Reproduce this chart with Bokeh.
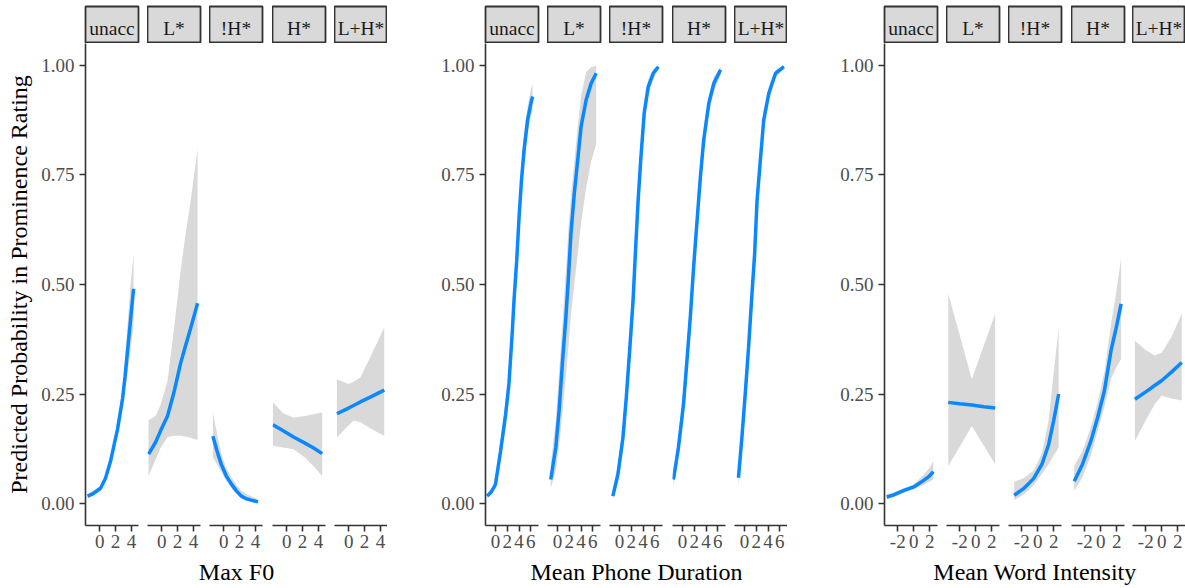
from bokeh.plotting import figure
from bokeh.layouts import row, column
from bokeh.models import Range1d, FixedTicker, Label, ColumnDataSource, NumeralTickFormatter
from bokeh.embed import file_html
from bokeh.resources import INLINE

ACCENTS = ["unacc", "L*", "!H*", "H*", "L+H*"]
Y_TICKS = [0.0, 0.25, 0.5, 0.75, 1.0]
Y_TITLE = "Predicted Probability in Prominence Rating"

# ---------------- Max F0 ----------------
F0_TITLE = "Max F0"
F0_TICKS = [0, 2, 4]
F0_RANGE = (-1.8, 4.9)
f0_unacc_x = [-1.54, -0.91, 0.10, 0.73, 1.37, 2.25, 2.89, 3.20, 3.52, 3.90, 4.28]
f0_unacc_fit = [0.017, 0.022, 0.035, 0.058, 0.097, 0.170, 0.240, 0.290, 0.350, 0.420, 0.490]
f0_unacc_lo = [0.012, 0.017, 0.029, 0.050, 0.087, 0.155, 0.220, 0.260, 0.300, 0.350, 0.410]
f0_unacc_hi = [0.022, 0.028, 0.041, 0.066, 0.108, 0.186, 0.265, 0.330, 0.410, 0.500, 0.570]

f0_L_x = [-1.67, -0.78, -0.15, 0.73, 1.49, 2.38, 3.01, 3.65, 4.53]
f0_L_fit = [0.113, 0.140, 0.166, 0.200, 0.250, 0.320, 0.360, 0.400, 0.457]
f0_L_lo = [0.063, 0.100, 0.127, 0.152, 0.155, 0.155, 0.153, 0.150, 0.145]
f0_L_hi = [0.190, 0.200, 0.225, 0.280, 0.390, 0.530, 0.615, 0.690, 0.810]

f0_dH_x = [-1.37, -0.85, -0.32, 0.30, 0.95, 1.60, 2.22, 2.85, 3.48, 4.33]
f0_dH_fit = [0.154, 0.120, 0.090, 0.064, 0.045, 0.029, 0.017, 0.011, 0.008, 0.004]
f0_dH_lo = [0.105, 0.090, 0.072, 0.052, 0.036, 0.022, 0.012, 0.007, 0.004, 0.001]
f0_dH_hi = [0.207, 0.160, 0.115, 0.082, 0.060, 0.043, 0.030, 0.022, 0.017, 0.010]

f0_H_x = [-1.75, -0.50, 0.86, 2.30, 3.40, 4.48]
f0_H_fit = [0.180, 0.167, 0.152, 0.138, 0.127, 0.114]
f0_H_lo = [0.132, 0.128, 0.124, 0.105, 0.085, 0.063]
f0_H_hi = [0.231, 0.207, 0.196, 0.200, 0.204, 0.208]

f0_LH_x = [-1.49, -0.03, 0.61, 1.46, 2.72, 4.49]
f0_LH_fit = [0.205, 0.218, 0.224, 0.232, 0.243, 0.259]
f0_LH_lo = [0.151, 0.178, 0.189, 0.186, 0.172, 0.154]
f0_LH_hi = [0.284, 0.273, 0.278, 0.288, 0.334, 0.402]

# ---------------- Mean Phone Duration ----------------
DUR_TITLE = "Mean Phone Duration"
DUR_TICKS = [0, 2, 4, 6]
DUR_RANGE = (-1.7, 7.3)
dur_unacc_x = [-1.42, -0.70, 0.00, 0.86, 1.72, 2.28, 2.86, 3.14, 3.60, 4.00, 4.41, 4.85, 5.44, 6.00, 6.30]
dur_unacc_fit = [0.017, 0.027, 0.044, 0.120, 0.204, 0.273, 0.395, 0.463, 0.555, 0.654, 0.738, 0.807, 0.875, 0.913, 0.929]
dur_unacc_lo = [0.012, 0.020, 0.036, 0.100, 0.175, 0.240, 0.355, 0.425, 0.515, 0.615, 0.700, 0.770, 0.840, 0.885, 0.895]
dur_unacc_hi = [0.023, 0.035, 0.053, 0.140, 0.235, 0.305, 0.435, 0.500, 0.595, 0.690, 0.775, 0.845, 0.905, 0.945, 0.958]

dur_L_x = [-1.15, -0.29, 0.27, 0.86, 1.42, 1.82, 2.28, 2.85, 3.43, 4.00, 4.86, 5.71, 6.57]
dur_L_fit = [0.055, 0.128, 0.212, 0.326, 0.425, 0.509, 0.616, 0.708, 0.784, 0.860, 0.921, 0.959, 0.982]
dur_L_lo = [0.035, 0.075, 0.130, 0.210, 0.290, 0.350, 0.430, 0.500, 0.570, 0.640, 0.720, 0.780, 0.820]
dur_L_hi = [0.090, 0.190, 0.300, 0.415, 0.530, 0.620, 0.700, 0.780, 0.860, 0.930, 0.985, 0.996, 0.999]

dur_dH_x = [-1.13, -0.27, 0.58, 1.15, 1.72, 2.30, 2.69, 3.16, 3.60, 4.19, 4.87, 5.73, 6.59]
dur_dH_fit = [0.017, 0.067, 0.150, 0.242, 0.349, 0.463, 0.570, 0.692, 0.784, 0.891, 0.951, 0.982, 0.997]
dur_dH_lo = [0.010, 0.050, 0.120, 0.205, 0.305, 0.415, 0.520, 0.645, 0.745, 0.860, 0.930, 0.968, 0.990]
dur_dH_hi = [0.028, 0.088, 0.183, 0.282, 0.395, 0.510, 0.618, 0.735, 0.822, 0.918, 0.968, 0.992, 0.999]

dur_H_x = [-1.54, -0.69, 0.17, 0.75, 1.32, 1.89, 2.47, 3.04, 3.60, 4.46, 5.32, 6.47]
dur_H_fit = [0.055, 0.128, 0.227, 0.326, 0.425, 0.540, 0.646, 0.746, 0.830, 0.913, 0.959, 0.990]
dur_H_lo = [0.040, 0.105, 0.195, 0.290, 0.385, 0.500, 0.605, 0.710, 0.800, 0.890, 0.940, 0.978]
dur_H_hi = [0.075, 0.155, 0.262, 0.365, 0.465, 0.580, 0.685, 0.780, 0.858, 0.933, 0.974, 0.997]

dur_LH_x = [-1.03, -0.45, 0.12, 0.69, 1.27, 1.72, 2.13, 2.69, 3.26, 4.12, 5.27, 6.69]
dur_LH_fit = [0.059, 0.150, 0.250, 0.357, 0.479, 0.570, 0.692, 0.784, 0.875, 0.936, 0.982, 0.997]
dur_LH_lo = [0.040, 0.118, 0.212, 0.318, 0.440, 0.532, 0.655, 0.752, 0.850, 0.918, 0.972, 0.992]
dur_LH_hi = [0.085, 0.185, 0.290, 0.398, 0.520, 0.610, 0.728, 0.815, 0.898, 0.952, 0.990, 0.999]

# ---------------- Mean Word Intensity ----------------
INT_TITLE = "Mean Word Intensity"
INT_TICKS = [-2, 0, 2]
INT_TICK_LABELS = {-2: "-2", 0: "0", 2: "2"}
INT_RANGE = (-3.65, 2.95)
int_unacc_x = [-3.37, -2.50, -1.23, 0.00, 1.23, 1.90, 2.43]
int_unacc_fit = [0.015, 0.020, 0.030, 0.038, 0.053, 0.062, 0.073]
int_unacc_lo = [0.010, 0.015, 0.025, 0.033, 0.043, 0.049, 0.055]
int_unacc_hi = [0.021, 0.026, 0.035, 0.044, 0.066, 0.080, 0.097]

int_L_x = [-3.43, -2.00, -0.50, 1.00, 2.41]
int_L_fit = [0.231, 0.228, 0.225, 0.221, 0.218]
int_L_lo = [0.086, 0.130, 0.177, 0.132, 0.090]
int_L_hi = [0.479, 0.384, 0.284, 0.361, 0.433]

int_dH_x = [-2.94, -1.78, -0.53, 0.52, 1.35, 1.98, 2.60]
int_dH_fit = [0.019, 0.034, 0.057, 0.090, 0.135, 0.190, 0.250]
int_dH_lo = [0.008, 0.020, 0.042, 0.068, 0.090, 0.110, 0.128]
int_dH_hi = [0.050, 0.058, 0.075, 0.115, 0.190, 0.300, 0.400]

int_H_x = [-3.31, -2.28, -1.23, -0.40, 0.44, 1.28, 1.90, 2.53]
int_H_fit = [0.051, 0.090, 0.143, 0.196, 0.257, 0.350, 0.400, 0.456]
int_H_lo = [0.029, 0.060, 0.110, 0.165, 0.220, 0.285, 0.310, 0.330]
int_H_hi = [0.086, 0.120, 0.175, 0.230, 0.300, 0.410, 0.480, 0.560]

int_LH_x = [-3.35, -2.00, -0.85, 0.00, 1.20, 2.48]
int_LH_fit = [0.238, 0.255, 0.270, 0.281, 0.300, 0.322]
int_LH_lo = [0.143, 0.190, 0.228, 0.246, 0.240, 0.235]
int_LH_hi = [0.372, 0.350, 0.338, 0.345, 0.380, 0.433]

# ---------------- styling / layout ----------------
FONT = "Liberation Serif"
BLUE = "#0A88FF"
RIBBON = "#D9D9D9"
AXIS_COL = "#333333"
TICK_COL = "#4D4D4D"
W = 53            # panel frame width
FRAME_H = 482     # panel frame height
STRIP_TOP = 6
STRIP_H = 37
BOTTOM = 33
TITLE_H = 30

GROUPS = [
    dict(title=F0_TITLE, ticks=F0_TICKS, labels=None, rng=F0_RANGE, start=0, lefts=[85, 147, 209, 272, 334], ytitle=True,
         data=[(f0_unacc_x, f0_unacc_fit, f0_unacc_lo, f0_unacc_hi), (f0_L_x, f0_L_fit, f0_L_lo, f0_L_hi),
               (f0_dH_x, f0_dH_fit, f0_dH_lo, f0_dH_hi), (f0_H_x, f0_H_fit, f0_H_lo, f0_H_hi),
               (f0_LH_x, f0_LH_fit, f0_LH_lo, f0_LH_hi)]),
    dict(title=DUR_TITLE, ticks=DUR_TICKS, labels=None, rng=DUR_RANGE, start=387, lefts=[485, 547, 609, 672, 734], ytitle=False,
         data=[(dur_unacc_x, dur_unacc_fit, dur_unacc_lo, dur_unacc_hi), (dur_L_x, dur_L_fit, dur_L_lo, dur_L_hi),
               (dur_dH_x, dur_dH_fit, dur_dH_lo, dur_dH_hi), (dur_H_x, dur_H_fit, dur_H_lo, dur_H_hi),
               (dur_LH_x, dur_LH_fit, dur_LH_lo, dur_LH_hi)]),
    dict(title=INT_TITLE, ticks=INT_TICKS, labels=INT_TICK_LABELS, rng=INT_RANGE, start=787, lefts=[884, 946, 1008, 1071, 1132], ytitle=False,
         data=[(int_unacc_x, int_unacc_fit, int_unacc_lo, int_unacc_hi), (int_L_x, int_L_fit, int_L_lo, int_L_hi),
               (int_dH_x, int_dH_fit, int_dH_lo, int_dH_hi), (int_H_x, int_H_fit, int_H_lo, int_H_hi),
               (int_LH_x, int_LH_fit, int_LH_lo, int_LH_hi)]),
]


def plain(fig):
    fig.grid.visible = False
    return fig


def make_strip(text, lb, rb):
    s = figure(width=lb + W + rb, height=STRIP_TOP + STRIP_H, x_range=Range1d(0, 1), y_range=Range1d(0, STRIP_H),
               min_border_left=lb, min_border_right=rb, min_border_top=STRIP_TOP, min_border_bottom=0,
               x_axis_location=None, y_axis_location=None, toolbar_location=None, output_backend="svg",
               background_fill_color=RIBBON, border_fill_color="white",
               outline_line_color=AXIS_COL, outline_line_width=1.8)
    plain(s)
    s.add_layout(Label(x=0.5, y=15, text=text, text_align="center", text_baseline="middle",
                       text_font=FONT, text_font_size="19.5px", text_color="#1A1A1A"))
    return s


def make_panel(g, k, lb, rb):
    x, fit, lo, hi = g["data"][k]
    first = k == 0
    p = figure(width=lb + W + rb, height=FRAME_H + BOTTOM,
               x_range=Range1d(*g["rng"]), y_range=Range1d(-0.05, 1.05),
               min_border_left=lb, min_border_right=rb, min_border_top=0, min_border_bottom=BOTTOM,
               y_axis_location="left" if first else None, toolbar_location=None, output_backend="svg",
               background_fill_color="white", border_fill_color="white", outline_line_color=None)
    plain(p)
    src = ColumnDataSource(dict(x=x, fit=fit, lo=lo, hi=hi))
    p.varea(x="x", y1="lo", y2="hi", source=src, fill_color=RIBBON, fill_alpha=1.0)
    p.line(x="x", y="fit", source=src, line_color=BLUE, line_width=3.5)

    axes = list(p.xaxis) + (list(p.yaxis) if first else [])
    for ax in axes:
        ax.axis_line_color = AXIS_COL
        ax.axis_line_width = 1.6
        ax.major_tick_line_color = AXIS_COL
        ax.major_tick_line_width = 1.6
        ax.major_tick_out = 6
        ax.major_tick_in = 0
        ax.minor_tick_out = 0
        ax.minor_tick_in = 0
        ax.major_label_text_font = FONT
        ax.major_label_text_font_size = "19px"
        ax.major_label_text_color = TICK_COL
    p.xaxis.ticker = FixedTicker(ticks=g["ticks"])
    if g["labels"]:
        p.xaxis.major_label_overrides = g["labels"]
    p.xaxis.major_label_standoff = 3
    if first:
        p.yaxis.ticker = FixedTicker(ticks=Y_TICKS)
        p.yaxis.formatter = NumeralTickFormatter(format="0.00")
        p.yaxis.major_label_standoff = 5
        if g["ytitle"]:
            p.yaxis.axis_label = Y_TITLE
            p.yaxis.axis_label_text_font = FONT
            p.yaxis.axis_label_text_font_size = "24px"
            p.yaxis.axis_label_text_font_style = "normal"
            p.yaxis.axis_label_text_color = "black"
            p.yaxis.axis_label_standoff = 6
    return p


groups = []
for g in GROUPS:
    lefts = g["lefts"]
    cols = []
    prev_end = g["start"]
    for k, acc in enumerate(ACCENTS):
        lb = lefts[k] - prev_end
        rb = (lefts[k + 1] - (lefts[k] + W)) if k < 4 else 0
        prev_end = lefts[k] + W + rb
        cols.append(column(make_strip(acc, lb, rb), make_panel(g, k, lb, rb)))
    lb0 = lefts[0] - g["start"]
    gw = lefts[4] + W - lefts[0]
    t = figure(width=lb0 + gw, height=TITLE_H, x_range=Range1d(0, 1), y_range=Range1d(0, TITLE_H),
               min_border_left=lb0, min_border_right=0, min_border_top=0, min_border_bottom=0,
               x_axis_location=None, y_axis_location=None, toolbar_location=None, output_backend="svg",
               outline_line_color=None, background_fill_color="white", border_fill_color="white")
    plain(t)
    t.add_layout(Label(x=0.5, y=17, text=g["title"], text_align="center", text_baseline="middle",
                       text_font=FONT, text_font_size="24px", text_color="black"))
    groups.append(column(row(*cols), t))

root = row(*groups)
open("out.html", "w").write(file_html(root, INLINE))
